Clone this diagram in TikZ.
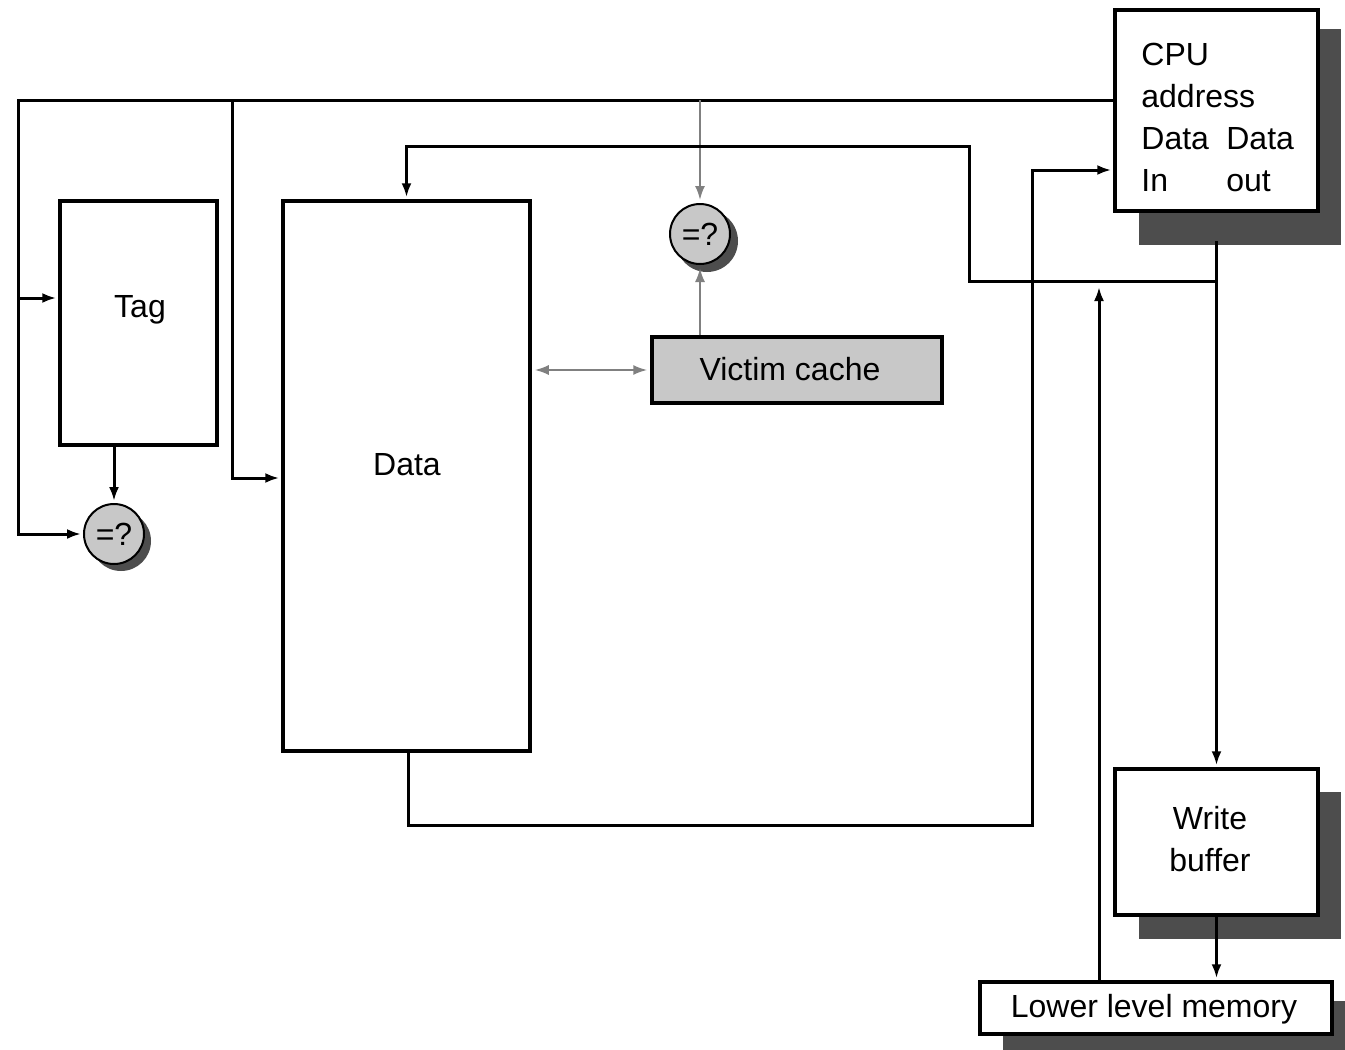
\documentclass[tikz,border=0pt]{standalone}
\usepackage{fontspec}
\setmainfont{Liberation Sans}
\usetikzlibrary{arrows.meta,calc}
\definecolor{shad}{HTML}{4D4D4D}
\definecolor{vfill}{HTML}{C8C8C8}
\definecolor{gline}{HTML}{808080}
\tikzset{
  box/.style={draw, line width=1.75pt, fill=white, inner sep=0pt},
  vbox/.style={box, fill=vfill},
  cmp/.style={circle, draw, line width=1pt, fill=vfill, minimum size=30pt, inner sep=0pt},
  txt/.style={inner sep=0pt},
  wire/.style={line width=1.5pt},
  arr/.style={wire, -{Latex[length=7pt,width=5pt]}, shorten >=1pt},
  garr/.style={line width=1pt, draw=gline, -{Latex[length=7pt,width=5pt]}, shorten >=1.5pt},
  gdarr/.style={line width=1pt, draw=gline, {Latex[length=7pt,width=5pt]}-{Latex[length=7pt,width=5pt]}, shorten >=1.5pt, shorten <=1.5pt}
}
\begin{document}
\begin{tikzpicture}[x=0.5pt, y=-0.5pt, font=\fontsize{16}{21}\selectfont]
\useasboundingbox (0,0) rectangle (1345,1050);
\fill[white] (0,0) rectangle (1345,1050);
% shadows
\fill[shad] (1139,29) rectangle (1341,245);
\fill[shad] (1139,792) rectangle (1341,939);
\fill[shad] (1003,1001) rectangle (1345,1050);
\fill[shad] (121,541) circle (15pt);
\fill[shad] (707,241) circle (15.5pt);
% boxes
\node[box, minimum width=101.5pt, minimum height=100.5pt] (cpu) at (1216.5,110.5) {};
\node[box, minimum width=78.5pt, minimum height=122pt] (tag) at (138.5,323) {};
\node[box, minimum width=123.5pt, minimum height=275pt] (data) at (406.5,476) {};
\node[vbox, minimum width=145pt, minimum height=33pt] (victim) at (797,370) {};
\node[box, minimum width=101.5pt, minimum height=73pt] (wb) at (1216.5,842) {};
\node[box, minimum width=176pt, minimum height=26pt] (lm) at (1156,1008) {};
\node[cmp] (c1) at (114,534) {=?};
\node[cmp] (c2) at (700,234) {=?};
% texts
\node[txt, anchor=north west, align=left] (cput) at (1141,43)
  {CPU\\address\\\makebox[42.5pt][l]{Data}Data\\\makebox[42.5pt][l]{In}out};
\node[txt] (tagt) at (140,310) {Tag};
\node[txt] (datat) at (407,465) {Data};
\node[txt] (vict) at (790,369) {Victim cache};
\node[txt, align=center] (wbt) at (1210,839) {Write\\buffer};
\node[txt] (lmt) at (1154,1009) {Lower level memory};
% coordinates
\coordinate (aL) at (18,100);
\coordinate (aM) at (232,100);
\coordinate (aG) at (700,100);
\coordinate (tagin) at (18,298);
\coordinate (datain) at (232,478);
\coordinate (d1) at (408,825);
\coordinate (d2) at (1032,170);
\coordinate (cpuout) at (1216.5,241);
\coordinate (j1) at (1216.5,281);
\coordinate (j2) at (969,146);
\coordinate (lmup) at (1099,285);
% address bus
\draw[arr] (cpu.west |- aL) -- (aL) |- (c1.west);
\draw[arr] (tagin) -- (tagin -| tag.west);
\draw[arr] (aM) |- (datain -| data.west);
\draw[garr] (aG) -- (c2.north);
\draw[arr] (c1.north |- tag.south) -- (c1.north);
% victim cache
\draw[garr] (victim.north -| c2) -- (c2.south);
\draw[gdarr] (data.east |- victim.west) -- (victim.west);
% data paths
\draw[arr] (data.south -| d1) -- (d1) -| (d2) -- (d2 -| cpu.west);
\draw[arr] (cpuout) -- (wb.north);
\draw[arr] (j1) -| (j2) -| (data.north);
\draw[arr] (lm.north -| lmup) -- (lmup);
\draw[arr] (wb.south) -- (wb.south |- lm.north);
\end{tikzpicture}
\end{document}
